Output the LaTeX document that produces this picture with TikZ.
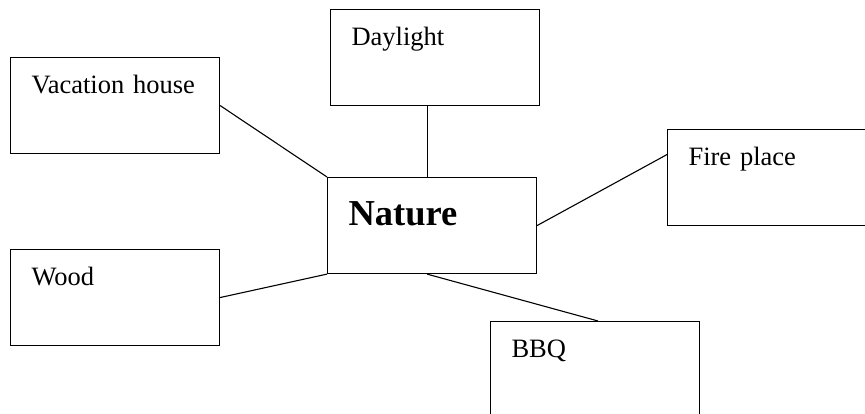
\documentclass[tikz,border=0pt]{standalone}
\usepackage{fontspec}
\setmainfont{Liberation Serif}
\begin{document}
\begin{tikzpicture}[x=1pt,y=-1pt,
    box/.style={draw, line width=1.1pt, anchor=north west, inner xsep=21pt, inner ysep=0pt,
      text width=167pt, align=left, text height=36pt, text depth=60pt,
      font=\fontsize{26.5}{30}\selectfont},
    link/.style={line width=1.1pt}]
      \useasboundingbox (0,0) rectangle (865,414);
      \node[box] (day) at (330,9) {Daylight};
      \node[box] (vac) at (10,57) {Vacation house};
      \node[box] (fire) at (667,129) {Fire place};
      \node[box, text height=48pt, text depth=48pt,
        font=\fontsize{36.5}{40}\selectfont\bfseries] (nat) at (327,177) {Nature};
      \node[box] (wood) at (10,249) {Wood};
      \node[box] (bbq) at (490,321) {BBQ};
      \draw[link] (vac.east) -- (nat.north west);
      \draw[link] ([xshift=-8pt]day.south) -- ([xshift=-5pt]nat.north);
      \draw[link] (nat.east) -- ([yshift=23pt]fire.west);
      \draw[link] (wood.east) -- (nat.south west);
      \draw[link] ([xshift=-5pt]nat.south) -- ([xshift=3pt]bbq.north);
\end{tikzpicture}
\end{document}
